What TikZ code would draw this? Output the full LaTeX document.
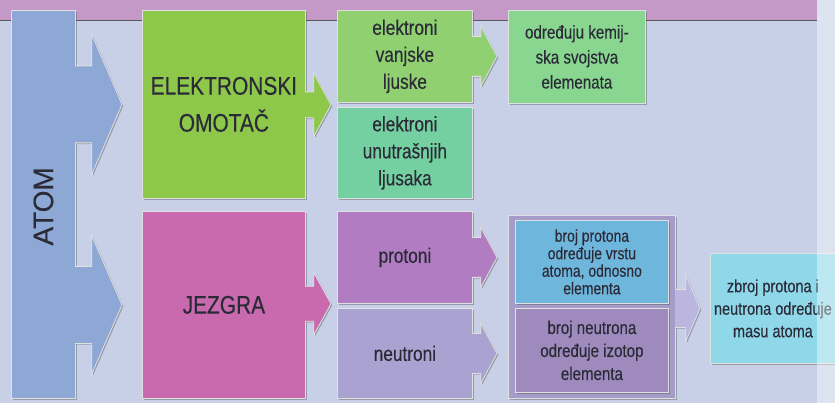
\documentclass[tikz,border=0pt]{standalone}
\usepackage{fontspec}
\setmainfont[FakeStretch=0.82,FakeBold=0.3]{Liberation Sans}
\newfontfamily\widesans[FakeBold=0.3]{Liberation Sans}
\usetikzlibrary{calc,shadows}

\definecolor{bgblue}{HTML}{C7D0E6}
\definecolor{topband}{HTML}{C499C7}
\definecolor{txt}{HTML}{2B2B38}
\definecolor{atomblue}{HTML}{8EA8D6}
\definecolor{shellgreen}{HTML}{8DC84A}
\definecolor{outergreen}{HTML}{90D070}
\definecolor{innergreen}{HTML}{74D0A0}
\definecolor{chemgreen}{HTML}{88D690}
\definecolor{nucpink}{HTML}{C96AAF}
\definecolor{protpurple}{HTML}{B27CC2}
\definecolor{neutlav}{HTML}{AAA2D0}
\definecolor{framelav}{HTML}{A69CC9}
\definecolor{protblue}{HTML}{6FB6DC}
\definecolor{neutpurple}{HTML}{9E8ABD}
\definecolor{sumarrow}{HTML}{BAB6DF}
\definecolor{sumcyan}{HTML}{8ED8EA}

% block arrow growing out of the right side of #2 towards #3
% #1 fill, #2 source node, #3 target node, #4 point giving the height,
% #5 stem length, #6 gap before target, #7 half stem width, #8 half head width
\newcommand\blockarrow[8]{%
  \path[blockarr, fill=#1] let \p1=(#2.east), \p2=(#3.west), \p3=(#4) in
    (\x1-0.8pt,\y3+#7pt) -- (\x1+#5pt,\y3+#7pt) -- (\x1+#5pt,\y3+#8pt)
    -- (\x2-#6pt,\y3) -- (\x1+#5pt,\y3-#8pt) -- (\x1+#5pt,\y3-#7pt)
    -- (\x1-0.8pt,\y3-#7pt);
}

\begin{document}
\begin{tikzpicture}[x=1pt,y=-1pt,
  shade/.style={drop shadow={shadow xshift=1.3pt, shadow yshift=-1.3pt, opacity=0.4, fill=black!70}},
  box/.style={shade, draw=white!88!black, line width=0.8pt, inner sep=0pt,
    anchor=north west, align=center, text=txt},
  blockarr/.style={shade, draw=white!88!black, line width=0.8pt, line join=miter},
  bigtext/.style={font=\fontsize{25.5}{37}\selectfont},
  midtext/.style={font=\fontsize{21}{27}\selectfont},
  chemtext/.style={font=\fontsize{18.5}{25}\selectfont},
  ptext/.style={font=\fontsize{17}{17.5}\selectfont},
  ntext/.style={font=\fontsize{18.4}{23}\selectfont},
  sumtext/.style={font=\fontsize{17.7}{22.5}\selectfont}]

\useasboundingbox (0,0) rectangle (835,403);

% page background with the coloured band on top
\fill[bgblue] (0,0) rectangle (835,403);
\fill[topband] (0,0) rectangle (817,20.5);
\draw[black!65, line width=0.6pt] (0,20.5) -- (817,20.5);

% first column
\node[box, fill=atomblue, minimum width=64pt, minimum height=388pt] (atom) at (11,10) {};
\node[rotate=90, text=txt, font=\widesans\fontsize{28}{30}\selectfont] (atomlabel) at ($(atom.center)+(0,2)$) {ATOM};

% second column
\node[box, fill=shellgreen, bigtext, minimum width=163pt, minimum height=188pt] (omotac) at (142,10) {ELEKTRONSKI\\OMOTAČ};
\node[box, fill=nucpink, bigtext, minimum width=163pt, minimum height=187pt] (jezgra) at (142,211) {JEZGRA};

% third column
\node[box, fill=outergreen, midtext, minimum width=135pt, minimum height=92pt] (vanj) at (337,10) {elektroni\\vanjske\\ljuske};
\node[box, fill=innergreen, midtext, minimum width=135pt, minimum height=91pt] (unut) at (337,107) {elektroni\\unutrašnjih\\ljusaka};
\node[box, fill=protpurple, midtext, minimum width=135pt, minimum height=92pt] (protoni) at (337,211) {protoni};
\node[box, fill=neutlav, midtext, minimum width=135pt, minimum height=90pt] (neutroni) at (337,308) {neutroni};

% fourth column
\node[box, fill=chemgreen, chemtext, minimum width=137pt, minimum height=93pt] (kemij) at (508,10) {određuju kemij-\\ska svojstva\\elemenata};
\node[box, fill=framelav, minimum width=167pt, minimum height=183pt] (grupa) at (508,215) {};
\node[box, fill=protblue, ptext, minimum width=153pt, minimum height=83pt] (bprot) at (515,220) {broj protona\\određuje vrstu\\atoma, odnosno\\elementa};
\node[box, fill=neutpurple, ntext, minimum width=153pt, minimum height=84pt] (bneut) at (515,308) {broj neutrona\\određuje izotop\\elementa};

% last column
\node[box, fill=sumcyan, sumtext, minimum width=125pt, minimum height=110pt] (zbroj) at (710,253) {zbroj protona i\\neutrona određuje\\masu atoma};

% height between the two electron boxes
\coordinate (elmid) at ($(vanj.south west)!0.5!(unut.north west)$);

% block arrows
\blockarrow{atomblue}{atom}{omotac}{omotac.west}{16}{20}{38.5}{70}
\blockarrow{atomblue}{atom}{jezgra}{jezgra.west}{16}{20}{38.5}{69}
\blockarrow{shellgreen}{omotac}{vanj}{elmid}{8}{6}{13}{31.5}
\blockarrow{nucpink}{jezgra}{protoni}{protoni.south west}{8}{6}{17.5}{31}
\blockarrow{outergreen}{vanj}{kemij}{vanj.east}{8}{11}{20}{30}
\blockarrow{protpurple}{protoni}{grupa}{protoni.east}{8}{11}{20}{30}
\blockarrow{neutlav}{neutroni}{grupa}{neutroni.east}{8}{11}{20}{30}
\blockarrow{sumarrow}{grupa}{zbroj}{zbroj.west}{10}{10}{19}{33}

% pale page edge on the right
\fill[white, opacity=0.42] (817,0) rectangle (835,403);
\end{tikzpicture}
\end{document}
